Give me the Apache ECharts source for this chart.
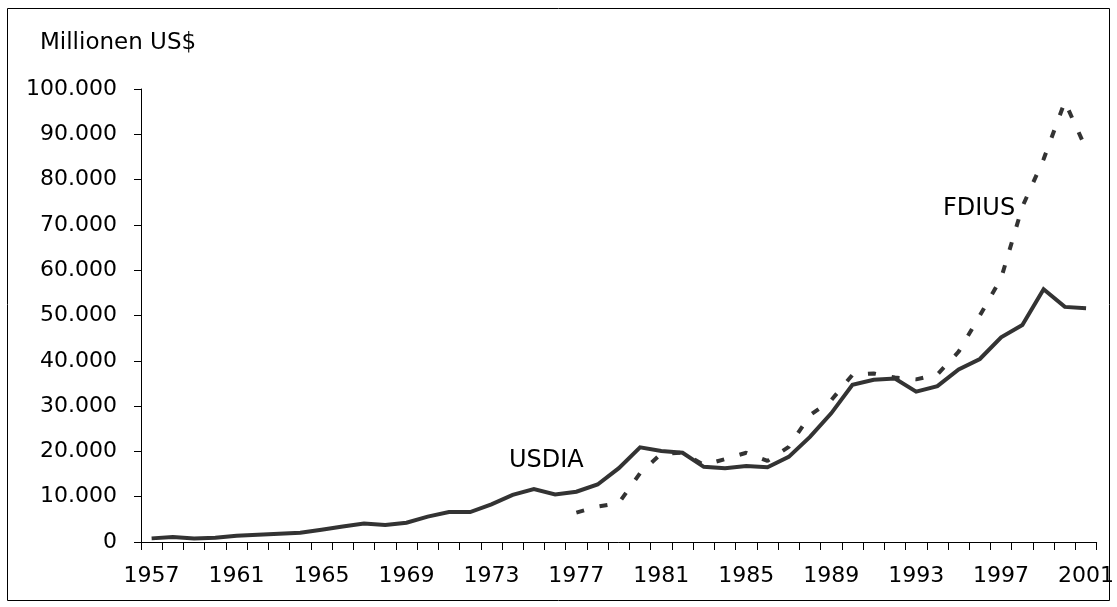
<!DOCTYPE html>
<html>
<head>
<meta charset="utf-8">
<script src="https://cdn.jsdelivr.net/npm/echarts@6/dist/echarts.min.js"></script>
<style>
html,body{margin:0;padding:0;background:#fff;}
#chart{width:1117px;height:607px;}
</style>
</head>
<body>
<div id="chart"></div>
<script>
var years = ['1957','1958','1959','1960','1961','1962','1963','1964','1965','1966','1967','1968','1969','1970','1971','1972','1973','1974','1975','1976','1977','1978','1979','1980','1981','1982','1983','1984','1985','1986','1987','1988','1989','1990','1991','1992','1993','1994','1995','1996','1997','1998','1999','2000','2001'];
var usdia = [800,1100,800,950,1400,1600,1800,2050,2700,3400,4100,3750,4260,5600,6600,6600,8300,10400,11700,10500,11100,12700,16300,20900,20100,19700,16600,16300,16800,16500,18800,23200,28400,34700,35800,36100,33200,34400,38100,40400,45200,47900,55800,51900,51600];
var fdius = [null,null,null,null,null,null,null,null,null,null,null,null,null,null,null,null,null,null,null,null,6500,7800,8600,15200,19500,19700,17000,18300,19700,17900,21000,28000,31300,36900,37200,36300,35900,37000,42000,50000,58200,74000,84500,97200,86800];
var unitLabel = 'Millionen US$';
var seriesNames = ['USDIA','FDIUS'];

function deFmt(v){ return String(v).replace(/\B(?=(\d{3})+(?!\d))/g,'.'); }

var FONT = 'DejaVu Sans';
var chart = echarts.init(document.getElementById('chart'), null, {renderer:'canvas'});
chart.setOption({
  animation:false,
  backgroundColor:'#fff',
  grid:{left:141, right:15, top:89, bottom:65, containLabel:false},
  xAxis:{
    type:'category', data:years, boundaryGap:true,
    axisLine:{lineStyle:{color:'#000', width:1}},
    axisTick:{show:true, interval:0, length:8, lineStyle:{color:'#000'}},
    axisLabel:{interval:3, margin:23, color:'#000', fontFamily:FONT, fontSize:22},
    splitLine:{show:false}
  },
  yAxis:{
    type:'value', min:0, max:100000, interval:10000,
    axisLine:{show:true, lineStyle:{color:'#000', width:1}},
    axisTick:{show:true, length:7, lineStyle:{color:'#000'}},
    axisLabel:{margin:24, color:'#000', fontFamily:FONT, fontSize:22, formatter:deFmt},
    splitLine:{show:false}
  },
  graphic:[
    {type:'rect', shape:{x:7.5, y:8.5, width:1102, height:592}, style:{fill:null, stroke:'#000', lineWidth:1}, silent:true, z:-10},
    {type:'text', left:40, top:32, style:{text:unitLabel, font:'23px "DejaVu Sans"', fill:'#000'}},
    {type:'text', left:509, top:449, style:{text:seriesNames[0], font:'24px "DejaVu Sans"', fill:'#000'}},
    {type:'text', left:943, top:197, style:{text:seriesNames[1], font:'24px "DejaVu Sans"', fill:'#000'}}
  ],
  series:[
    {name:seriesNames[0], type:'line', data:usdia, showSymbol:false, symbol:'none', lineStyle:{color:'#333', width:4, cap:'butt', join:'miter'}, z:3},
    {name:seriesNames[1], type:'line', data:fdius, showSymbol:false, symbol:'none', connectNulls:false, lineStyle:{color:'#333', width:4, type:[8,16], cap:'butt'}, z:2}
  ]
});
</script>
</body>
</html>
